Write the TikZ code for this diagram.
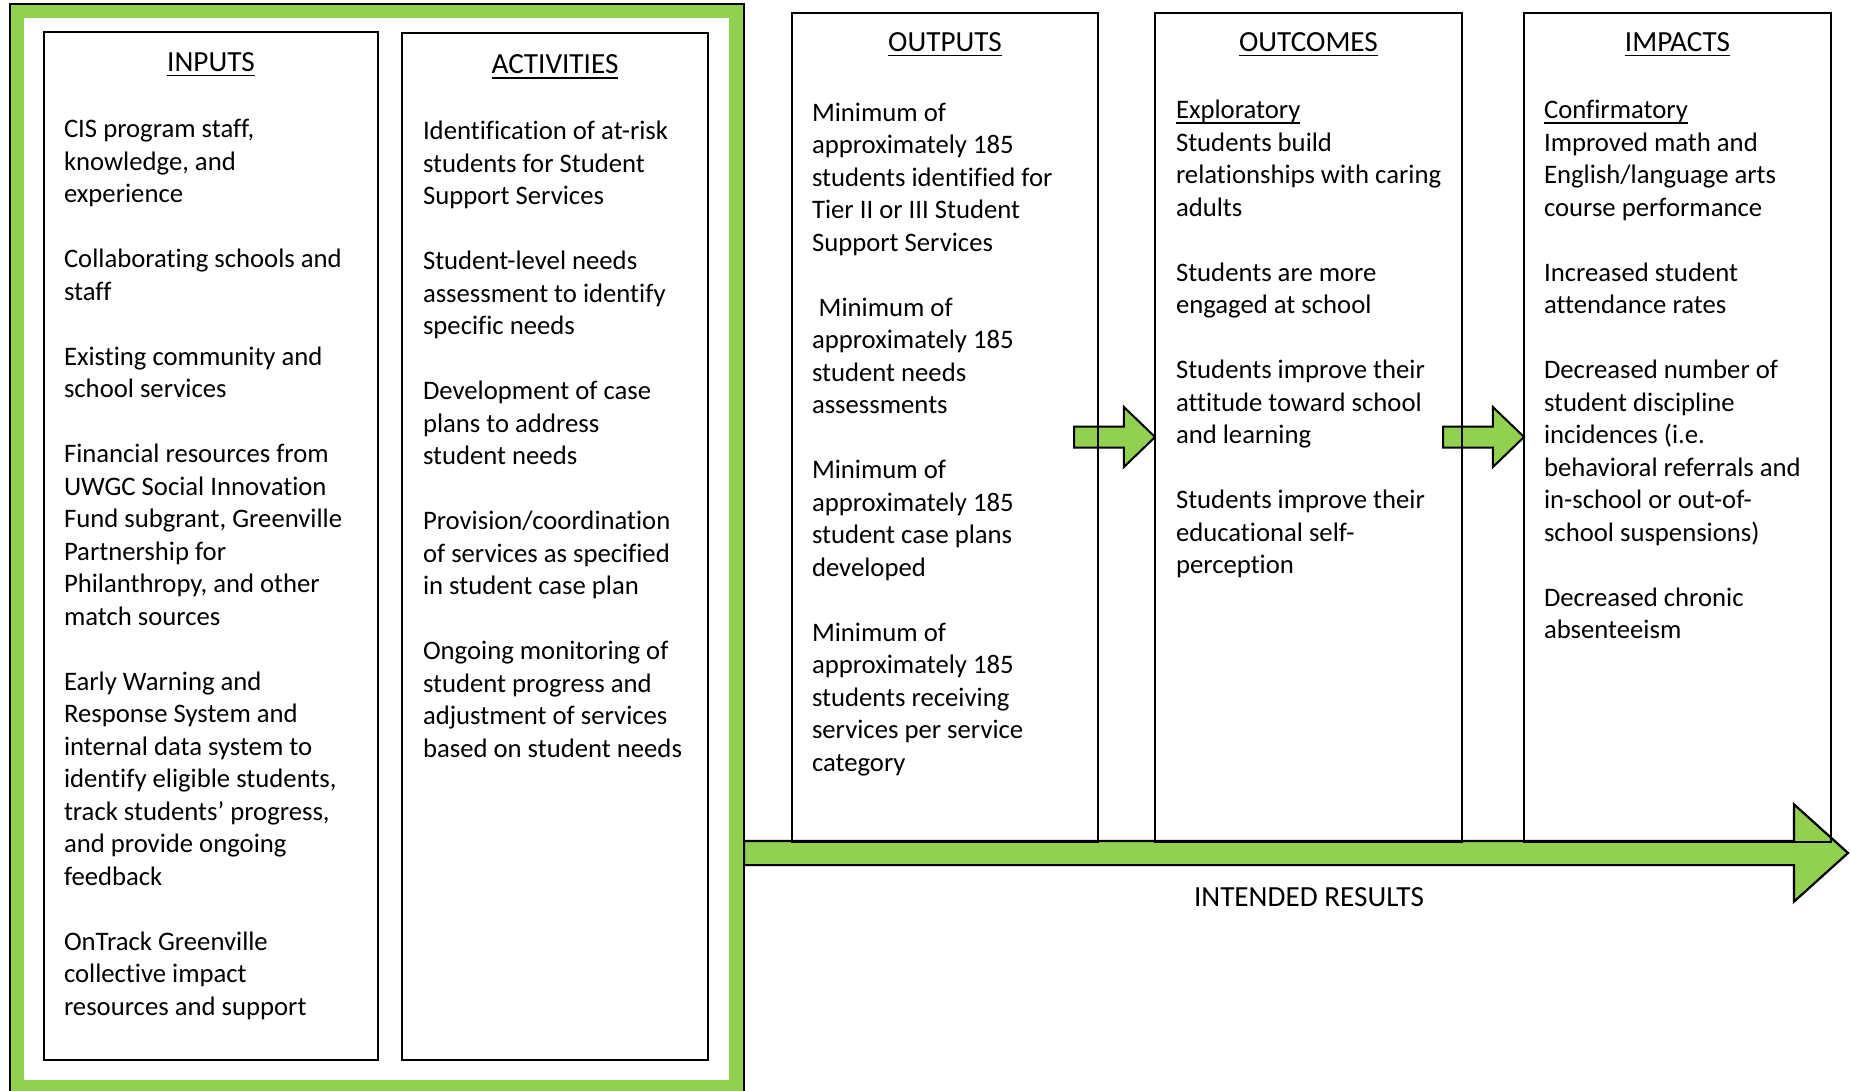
\documentclass[tikz,border=0pt]{standalone}
\usepackage{fontspec}
\setmainfont{Carlito}[Ligatures=NoCommon]
\usetikzlibrary{shapes.arrows,calc}
\definecolor{leafgreen}{HTML}{92D050}
\pgfdeclarelayer{back}
\pgfsetlayers{back,main}

% underline in the word-processor style: a fixed rule just below the baseline
\newlength\ulwd
\newcommand\wordul[1]{\settowidth\ulwd{#1}\rlap{\rule[-5pt]{\ulwd}{1.5pt}}#1}
% invisible prop fixing the top of a column body 25pt above its first baseline
\newcommand\toprop{\rule{0pt}{25pt}}

\begin{document}
\begin{tikzpicture}[x=1pt,y=-1pt,
  every node/.style={inner sep=0pt,outer sep=0pt,text=black},
  txt/.style={font=\fontsize{26.7pt}{32.5pt}\selectfont},
  bigtxt/.style={font=\fontsize{29.2pt}{35pt}\selectfont},
  column/.style={draw=black,line width=1.8pt,anchor=north west},
  header/.style={bigtxt,anchor=base},
  body/.style={txt,anchor=north west,align=left},
  smallarrow/.style={single arrow,draw=black,fill=leafgreen,line width=2pt,
    inner xsep=0pt,inner ysep=9.5pt,minimum height=81pt,minimum width=58pt,
    single arrow head extend=19.5pt,single arrow tip angle=88},
  bigarrow/.style={single arrow,draw=black,fill=leafgreen,line width=2.2pt,
    inner xsep=0pt,inner ysep=11pt,minimum height=1104pt,minimum width=95pt,
    single arrow head extend=36.5pt,single arrow tip angle=84}]

\useasboundingbox (0,0) rectangle (1851,1091);
\begin{pgfonlayer}{back}
  \fill[white] (0,0) rectangle (1851,1091);
\end{pgfonlayer}

% green frame round the planning columns
\node[draw=black,line width=2pt,fill=leafgreen,anchor=north west,
      minimum width=734pt,minimum height=1091pt] (frame) at (10,4) {};
\node[fill=white,anchor=north west,minimum width=705pt,minimum height=1062pt]
      (frameinner) at (24,18) {};

% the five columns
\node[column,minimum width=334pt,minimum height=1028pt] (inputs) at (44,32) {};
\node[column,minimum width=306pt,minimum height=1027pt] (activities) at (402,33) {};
\node[column,minimum width=306pt,minimum height=829pt] (outputs) at (792,13) {};
\node[column,minimum width=307pt,minimum height=829pt] (outcomes) at (1155,13) {};
\node[column,minimum width=307pt,minimum height=829pt] (impacts) at (1524,13) {};

% column headings
\node[header] (hinputs) at (inputs.north |- 0,71.5) {\wordul{INPUTS}};
\node[header] (hactivities) at (activities.north |- 0,74) {\wordul{ACTIVITIES}};
\node[header] (houtputs) at (outputs.north |- 0,51.5) {\wordul{OUTPUTS}};
\node[header] (houtcomes) at (outcomes.north |- 0,51.5) {\wordul{OUTCOMES}};
\node[header] (himpacts) at (impacts.north |- 0,51.5) {\wordul{IMPACTS}};

% column contents
\node[body] (tinputs) at (64,112.5) {\toprop CIS program staff,\\
knowledge, and\\
experience\\[32.5pt]
Collaborating schools and\\
staff\\[32.5pt]
Existing community and\\
school services\\[32.5pt]
Financial resources from\\
UWGC Social Innovation\\
Fund subgrant, Greenville\\
Partnership for\\
Philanthropy, and other\\
match sources\\[32.5pt]
Early Warning and\\
Response System and\\
internal data system to\\
identify eligible students,\\
track students’ progress,\\
and provide ongoing\\
feedback\\[32.5pt]
OnTrack Greenville\\
collective impact\\
resources and support};

\node[body] (tactivities) at (423,114.5) {\toprop Identification of at-risk\\
students for Student\\
Support Services\\[32.5pt]
Student-level needs\\
assessment to identify\\
specific needs\\[32.5pt]
Development of case\\
plans to address\\
student needs\\[32.5pt]
Provision/coordination\\
of services as specified\\
in student case plan\\[32.5pt]
Ongoing monitoring of\\
student progress and\\
adjustment of services\\
based on student needs};

\node[body] (toutputs) at (812,96) {\toprop Minimum of\\
approximately 185\\
students identified for\\
Tier II or III Student\\
Support Services\\[32.5pt]
\hspace*{0.25em}Minimum of\\
approximately 185\\
student needs\\
assessments\\[32.5pt]
Minimum of\\
approximately 185\\
student case plans\\
developed\\[32.5pt]
Minimum of\\
approximately 185\\
students receiving\\
services per service\\
category};

\node[body] (toutcomes) at (1176,93.5) {\toprop\wordul{Exploratory}\\
Students build\\
relationships with caring\\
adults\\[32.5pt]
Students are more\\
engaged at school\\[32.5pt]
Students improve their\\
attitude toward school\\
and learning\\[32.5pt]
Students improve their\\
educational self-\\
perception};

\node[body] (timpacts) at (1544,93.5) {\toprop\wordul{Confirmatory}\\
Improved math and\\
English/language arts\\
course performance\\[32.5pt]
Increased student\\
attendance rates\\[32.5pt]
Decreased number of\\
student discipline\\
incidences (i.e.\\
behavioral referrals and\\
in-school or out-of-\\
school suspensions)\\[32.5pt]
Decreased chronic\\
absenteeism};

% block arrows between the result columns and along the bottom
\begin{pgfonlayer}{back}
  \node[smallarrow,anchor=tip] (arr1) at ([yshift=-9.5pt]outcomes.west) {};
  \node[smallarrow,anchor=tip] (arr2) at ([yshift=-9.5pt]impacts.west) {};
  \node[bigarrow,anchor=tail] (resultsarrow)
       at ($(frame.east |- outputs.south)+(0,11)$) {};
\end{pgfonlayer}

\node[header] (resultslabel) at (1309,906) {INTENDED RESULTS};

\end{tikzpicture}
\end{document}
